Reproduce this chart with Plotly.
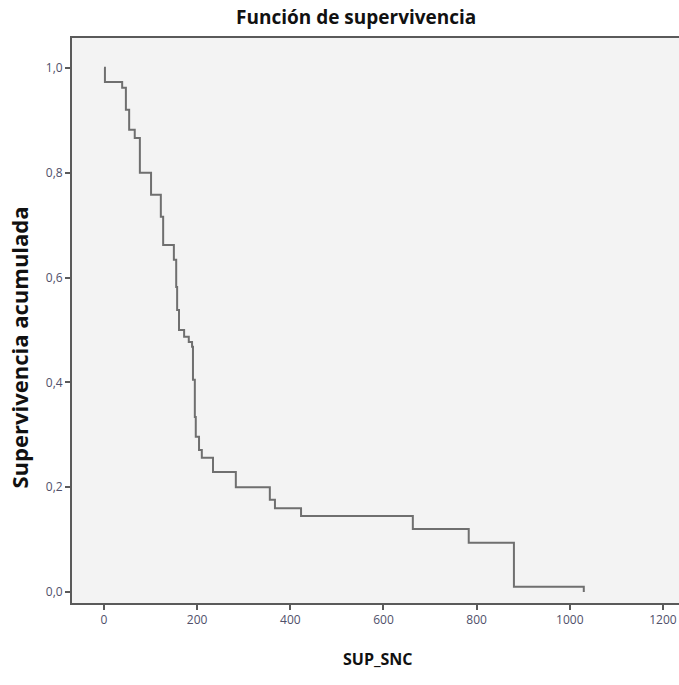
import plotly.graph_objects as go

# Kaplan-Meier step data
times = [0, 2, 39, 47, 54, 66, 77, 101, 122, 127, 150, 155, 157, 161, 172, 182, 189,
         191, 195, 197, 204, 210, 234, 283, 356, 367, 423, 663, 783, 880, 1030]
surv = [1.0, 0.973, 0.962, 0.920, 0.882, 0.866, 0.800, 0.758, 0.716, 0.662, 0.634,
        0.582, 0.538, 0.500, 0.487, 0.477, 0.468, 0.405, 0.334, 0.296, 0.271, 0.256,
        0.229, 0.200, 0.176, 0.160, 0.145, 0.120, 0.094, 0.010, 0.0]

x_ticks = [0, 200, 400, 600, 800, 1000, 1200]
y_ticks = [0.0, 0.2, 0.4, 0.6, 0.8, 1.0]

title_text = "Función de supervivencia"
x_title = "SUP_SNC"
y_title = "Supervivencia acumulada"

fig = go.Figure()
fig.add_trace(go.Scatter(
    x=times, y=surv, mode="lines", line=dict(shape="hv", color="#6f6f6f", width=2),
    hoverinfo="skip", showlegend=False))

W, H = 679, 685
L, T, B = 72, 38, 82

fig.update_layout(
    width=W, height=H,
    margin=dict(l=L, r=0, t=T, b=B),
    paper_bgcolor="white", plot_bgcolor="#f3f3f3",
    separators=",.",
    font=dict(family="Open Sans", color="#555566"),
    showlegend=False,
)
fig.update_xaxes(
    range=[-68.7, 1234.4], tickvals=x_ticks, tickformat="d",
    showgrid=False, zeroline=False, showline=True, linecolor="#5a5a5a", linewidth=2,
    mirror=True, ticks="outside", ticklen=5, tickwidth=1.5, tickcolor="#5a5a5a",
    tickfont=dict(size=12, color="#50506a", family="Open Sans"))
fig.update_yaxes(
    range=[-0.021, 1.057], tickvals=y_ticks, tickformat=".1f",
    showgrid=False, zeroline=False, showline=True, linecolor="#5a5a5a", linewidth=2,
    ticks="outside", ticklen=5, tickwidth=1.5, tickcolor="#5a5a5a",
    tickfont=dict(size=12, color="#50506a", family="Open Sans"))

fig.add_annotation(text=f"<b>{title_text}</b>", xref="paper", yref="paper",
                   x=(356 - L) / (W - L), y=1, yshift=21, showarrow=False,
                   xanchor="center", yanchor="middle",
                   font=dict(size=19, color="#111111", family="Open Sans"))
fig.add_annotation(text=f"<b>{x_title}</b>", xref="paper", yref="paper",
                   x=(378 - L) / (W - L), y=0, yshift=-56, showarrow=False,
                   xanchor="center", yanchor="middle",
                   font=dict(size=16, color="#111111", family="Open Sans"))
fig.add_annotation(text=f"<b>{y_title}</b>", xref="paper", yref="paper",
                   x=0, xshift=-54, y=0.5, yshift=-27, textangle=-90, showarrow=False,
                   xanchor="center", yanchor="middle",
                   font=dict(size=22, color="#111111", family="Open Sans"))

fig.write_html("out.html")
